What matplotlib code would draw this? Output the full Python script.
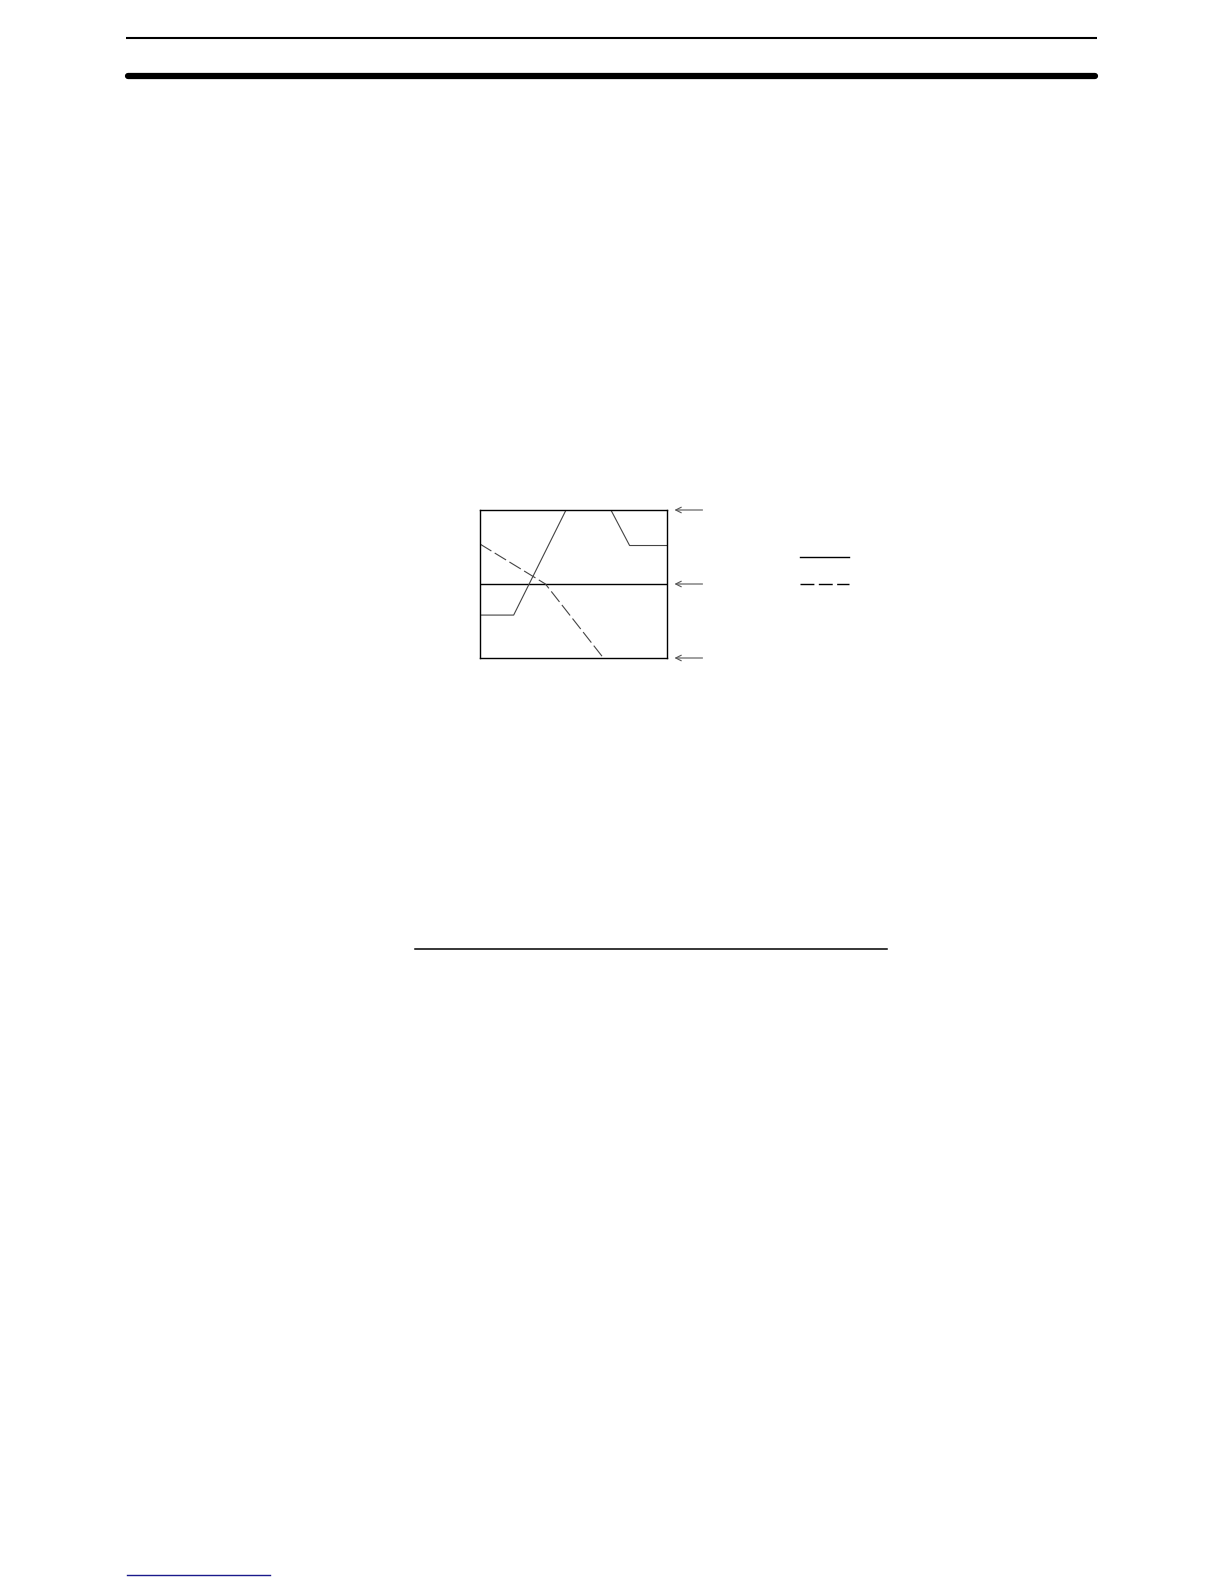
import matplotlib
matplotlib.use("Agg")
import matplotlib.pyplot as plt

# chart data (box coordinates: x 0..100 left to right, y 0..100 bottom to top)
solid_x = [0, 18, 46, 58, 70, 80, 100]
solid_y = [29, 29, 100, 125, 100, 76, 76]
dashed_x = [0, 35, 66, 75]
dashed_y = [77, 50, 0, -15]
mid_level = 50
arrow_levels = [100, 50, 0]

W, H = 1224, 1584
fig = plt.figure(figsize=(W / 100, H / 100), dpi=100)

# page layer in pixel coordinates
page = fig.add_axes([0, 0, 1, 1])
page.set_xlim(0, W)
page.set_ylim(H, 0)
page.axis("off")

# header rules
page.plot([126, 1097], [38, 38], color="black", lw=1.5, solid_capstyle="butt")
page.plot([128, 1095], [76, 76], color="black", lw=4.5, solid_capstyle="round")

# rule under the figure
page.plot([415, 887], [949, 949], color="black", lw=1.1)

# footer link line
page.plot([127, 270], [1575, 1575], color="#1a1a8c", lw=1.0)

# legend samples
page.plot([800, 849], [557, 557], color="black", lw=1.0)
page.plot([800, 849], [584, 584], color="black", lw=1.0, dashes=(10, 3.2))

# chart box
left, right, top, bottom = 480, 667, 510, 658
ax = fig.add_axes([left / W, 1 - bottom / H, (right - left) / W, (bottom - top) / H])
ax.set_xlim(0, 100)
ax.set_ylim(0, 100)
ax.set_xticks([])
ax.set_yticks([])
for s in ax.spines.values():
    s.set_linewidth(1.0)
    s.set_color("black")

ax.axhline(mid_level, color="black", lw=1.0)
ax.plot(solid_x, solid_y, color="#444444", lw=0.8)
ax.plot(dashed_x, dashed_y, color="#444444", lw=0.8, dashes=(12, 3.5))

# arrows pointing at the box levels
for lvl in arrow_levels:
    ax.annotate("", xy=(104, lvl), xytext=(119, lvl),
                xycoords="data", textcoords="data", annotation_clip=False,
                arrowprops=dict(arrowstyle="->", color="#555555", lw=0.8,
                                shrinkA=0, shrinkB=0))

fig.savefig("out.png", dpi=100)
